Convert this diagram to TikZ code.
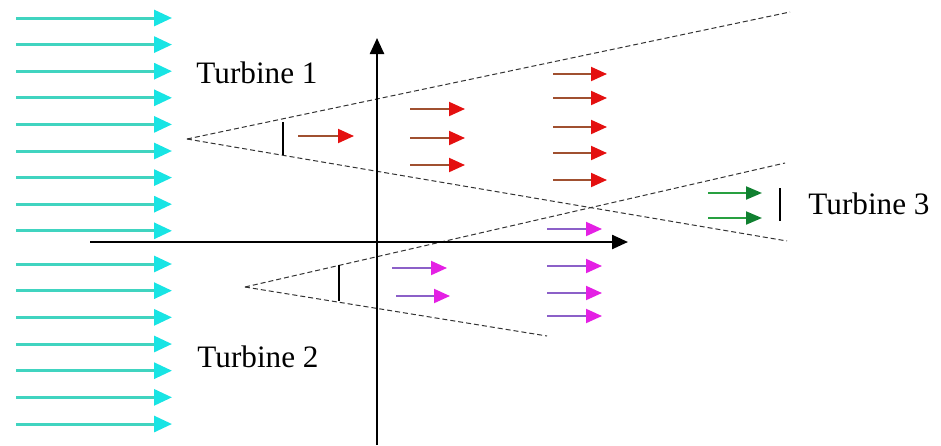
\documentclass[tikz,border=0pt]{standalone}
\usepackage{fontspec}
\setmainfont{Liberation Serif}
\usetikzlibrary{arrows.meta}

\definecolor{windshaft}{RGB}{64,212,192}
\definecolor{windhead}{RGB}{24,228,228}
\definecolor{wakeshaft}{RGB}{160,80,48}
\definecolor{wakehead}{RGB}{228,16,16}
\definecolor{lowshaft}{RGB}{140,96,200}
\definecolor{lowhead}{RGB}{228,32,228}
\definecolor{farshaft}{RGB}{40,160,64}
\definecolor{farhead}{RGB}{16,128,48}

\tikzset{
  wind/.style={line width=1.5pt, windshaft, -{Triangle[length=9pt, width=8pt, color=windhead]}},
  wake/.style={line width=1pt, wakeshaft, -{Triangle[length=8pt, width=7pt, color=wakehead]}},
  lowwake/.style={line width=1pt, lowshaft, -{Triangle[length=8pt, width=7pt, color=lowhead]}},
  farwake/.style={line width=1pt, farshaft, -{Triangle[length=8pt, width=6.5pt, color=farhead]}},
  axis/.style={line width=1.2pt, -{Triangle[length=8pt, width=7pt]}},
  cone/.style={line width=0.5pt, black!80, dash pattern=on 2.5pt off 1.5pt},
  rotor/.style={line width=1.4pt}
}

\begin{document}
\begin{tikzpicture}[x=0.5pt, y=-0.5pt, font=\fontsize{15.6}{18}\selectfont]
    \useasboundingbox (0,0) rectangle (941,445);

    % Incoming wind
    \foreach \k in {0,...,8}
        \draw[wind] (16,{18+26.6*\k}) -- (172,{18+26.6*\k});
    \foreach \k in {0,...,6}
        \draw[wind] (16,{264+26.67*\k}) -- (172,{264+26.67*\k});

    % Wake cones
    \draw[cone] (187,139) -- (790,12);
    \draw[cone] (187,139) -- (787,241);
    \draw[cone] (245,287) -- (785,163);
    \draw[cone] (245,287) -- (547,336);

    % Axes
    \draw[axis] (90,242) -- (628,242);
    \draw[axis] (377,445) -- (377,38);

    % Rotors
    \draw[rotor] (283,122) -- (283,155);
    \draw[rotor] (339,265) -- (339,301);
    \draw[rotor] (780,188) -- (780,221);

    % Labels
    \node (t1) at (257,73) {Turbine 1};
    \node (t2) at (258,357) {Turbine 2};
    \node (t3) at (869,204) {Turbine 3};

    % Wake of turbine 1
    \draw[wake] (298,136) -- (354,136);
    \foreach \y in {109,138,165}
        \draw[wake] (410,\y) -- (465,\y);
    \foreach \y in {74,98,127,153,180}
        \draw[wake] (553,\y) -- (607,\y);

    % Wake of turbine 2
    \draw[lowwake] (392,268) -- (447,268);
    \draw[lowwake] (396,296) -- (450,296);
    \foreach \y in {229,266,293,316}
        \draw[lowwake] (547,\y) -- (602,\y);

    % In front of turbine 3
    \draw[farwake] (708,193) -- (762,193);
    \draw[farwake] (708,218) -- (762,218);
\end{tikzpicture}
\end{document}
